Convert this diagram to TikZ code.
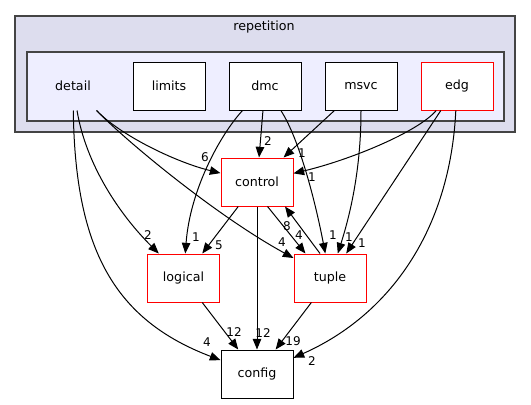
\documentclass[tikz,border=0pt]{standalone}
\usepackage{fontspec}
\setmainfont{DejaVu Sans}
\usetikzlibrary{arrows.meta}
\definecolor{clusterout}{HTML}{DDDDEE}
\definecolor{clusterin}{HTML}{EEEEFF}
\definecolor{clusterline}{HTML}{444444}
\begin{document}
\begin{tikzpicture}[x=0.75pt,y=0.75pt,yscale=-1,xscale=1,
  dirbox/.style={draw=black,fill=white,line width=0.75pt,minimum width=54pt,minimum height=36pt,inner sep=0pt,font=\fontsize{9.5}{11}\selectfont},
  redbox/.style={dirbox,draw=red},
  dep/.style={line width=0.75pt,-{Triangle[length=8pt,width=6.4pt]}},
  cnt/.style={inner sep=0.5pt,font=\fontsize{9}{10}\selectfont}]
\useasboundingbox (0,0) rectangle (531,404);
\draw [fill=clusterout,draw=clusterline,line width=1pt] (15,16) rectangle (515,132);
\draw [fill=clusterin,draw=clusterline,line width=1pt] (27,52) rectangle (504,121);
\node [font=\fontsize{9.5}{11}\selectfont] (repetition) at (264,27) {repetition};
\node [dirbox,draw=none,fill=none] (detail) at (73,86) {detail};
\node [dirbox] (limits) at (169,86) {limits};
\node [dirbox] (dmc) at (265,86) {dmc};
\node [dirbox] (msvc) at (361,86) {msvc};
\node [redbox] (edg) at (457,86) {edg};
\node [redbox] (control) at (257,182) {control};
\node [redbox] (logical) at (183.5,278) {logical};
\node [redbox] (tuple) at (330,278) {tuple};
\node [dirbox] (config) at (257,374) {config};
\draw [dep] (detail) .. controls (75,250) and (115,320) .. (config);
\draw [dep] (detail) .. controls (86,165) and (120,215) .. (logical);
\draw [dep] (detail) .. controls (120,135) and (175,162) .. (control);
\draw [dep] (detail) .. controls (125,140) and (215,215) .. (tuple);
\draw [dep] (dmc) .. controls (220,135) and (190,190) .. (logical);
\draw [dep] (dmc) -- (control);
\draw [dep] (dmc) .. controls (300,140) and (316,205) .. (tuple);
\draw [dep] (msvc) -- (control);
\draw [dep] (msvc) .. controls (361,170) and (350,215) .. (tuple);
\draw [dep] (edg) .. controls (418,132) and (350,160) .. (control);
\draw [dep] (edg) -- (tuple);
\draw [dep] (edg) .. controls (450,230) and (390,315) .. (config);
\draw [dep] (control) -- (logical);
\draw [dep] (control) -- (config);
\draw [dep] ([xshift=7.9pt]control.south) -- ([xshift=-18.4pt]tuple.north);
\draw [dep] ([xshift=-7.5pt]tuple.north) -- ([xshift=21pt]control.south);
\draw [dep] (logical) -- (config);
\draw [dep] (tuple) -- (config);
\node [cnt] (n1) at (207,342) {4};
\node [cnt] (n2) at (148,235) {2};
\node [cnt] (n3) at (205,157) {6};
\node [cnt] (n4) at (282,242) {4};
\node [cnt] (n5) at (196,237) {1};
\node [cnt] (n6) at (268,141) {2};
\node [cnt] (n7) at (333,235) {1};
\node [cnt] (n8) at (302,153) {1};
\node [cnt] (n9) at (349,237) {1};
\node [cnt] (n10) at (312,177) {1};
\node [cnt] (n11) at (362,243) {1};
\node [cnt] (n12) at (312,361) {2};
\node [cnt] (n13) at (219,245) {5};
\node [cnt] (n14) at (263,333) {12};
\node [cnt] (n15) at (299,235) {4};
\node [cnt] (n16) at (287,226) {8};
\node [cnt] (n17) at (234,332) {12};
\node [cnt] (n18) at (293,341) {19};
\end{tikzpicture}
\end{document}
